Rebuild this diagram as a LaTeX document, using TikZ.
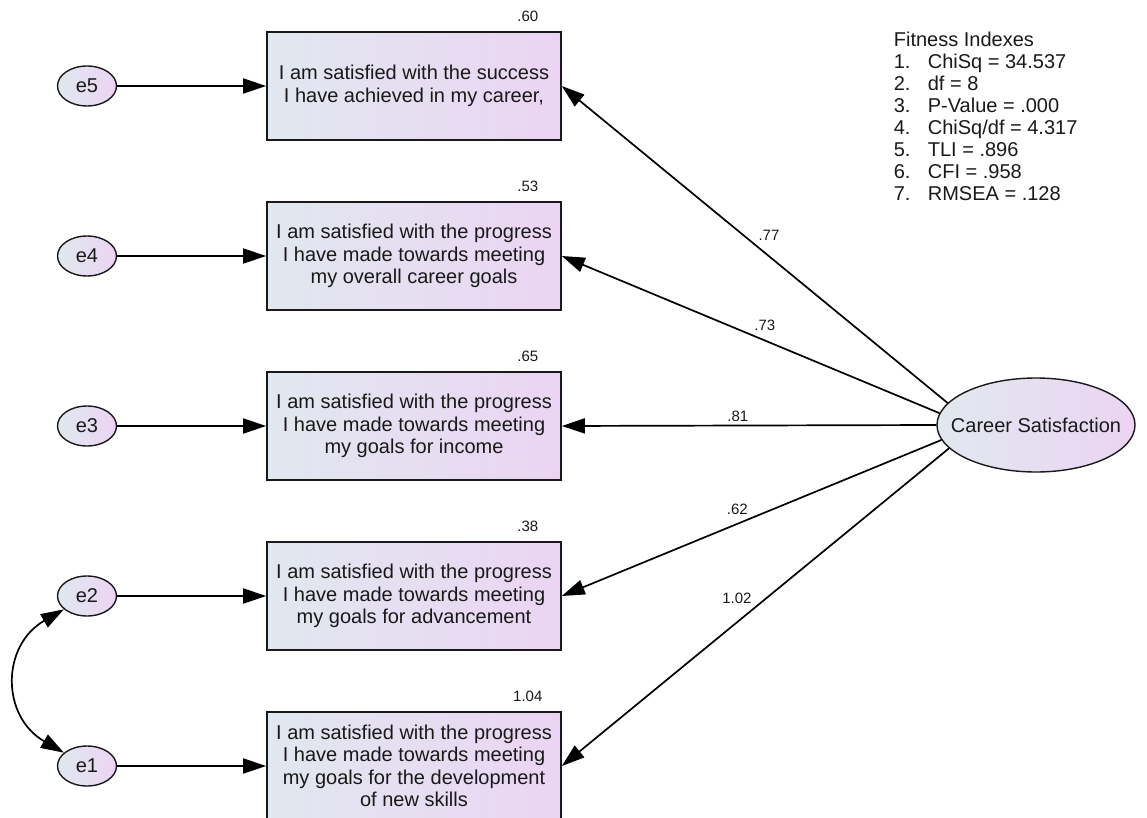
\documentclass[tikz,border=0pt]{standalone}
\usepackage{fontspec}
\setmainfont{Liberation Sans}
\usetikzlibrary{shapes.geometric,arrows.meta}

\definecolor{shadeL}{RGB}{225,232,239}
\definecolor{shadeR}{RGB}{235,212,243}
\definecolor{ink}{RGB}{25,25,25}

\newcommand{\fitrow}[2]{\makebox[34pt][l]{#1}#2}

\tikzset{%
        every item/.style={
            rectangle,
            draw=ink,
            line width=1.6pt,
            left color=shadeL,
            right color=shadeR,
            minimum width=294pt,
            minimum height=108pt,
            align=center,
            text=ink,
            font=\fontsize{20}{22.5}\selectfont
        },
        every error/.style={
            ellipse,
            draw=ink,
            line width=1.4pt,
            left color=shadeL,
            right color=shadeR,
            minimum width=59pt,
            minimum height=40pt,
            inner sep=0pt,
            text=ink,
            font=\fontsize{20}{22.5}\selectfont
        },
        latent/.style={
            every error,
            minimum width=198pt,
            minimum height=94pt
        },
        weight/.style={
            inner sep=3pt,
            text=ink,
            font=\fontsize{15}{17}\selectfont
        },
        fitness/.style={
            align=left,
            inner sep=0pt,
            text=ink,
            font=\fontsize{20}{22}\selectfont
        },
    }

\begin{document}
\begin{tikzpicture}[x=1pt, y=-1pt, >={Triangle[length=23pt,width=15pt]}, line width=1.7pt]
        \useasboundingbox (0,0) rectangle (1147,818);

        \foreach \t/\r [count=\i] in {
            {I am satisfied with the progress\\I have made towards meeting\\my goals for the development\\of new skills}/1.04,
            {I am satisfied with the progress\\I have made towards meeting\\my goals for advancement}/.38,
            {I am satisfied with the progress\\I have made towards meeting\\my goals for income}/.65,
            {I am satisfied with the progress\\I have made towards meeting\\my overall career goals}/.53,
            {I am satisfied with the success\\I have achieved in my career,}/.60}
        {
            \node [every item] (item-\i) at (414,{766-170*(\i-1)}) {\t};
            \node [every error] (e\i) at (87,{766-170*(\i-1)}) {e\i};
            \node [weight, inner sep=0pt, anchor=south] (r2-\i)
                at ([xshift=-34pt,yshift=9pt]item-\i.north east) {\r};
            \draw [->] (e\i) -- (item-\i);
        }

        \node [latent] (cs) at (1036,425) {\makebox[0pt]{Career Satisfaction}};

        \foreach \a/\w/\p/\s [count=\i] in {195/1.02/0.5/south east, 189/.62/0.5/south east,
            180/.81/0.53/south, 173/.73/0.5/south west, 166/.77/0.5/south west}
            \draw [->] (cs.\a) -- (item-\i.east)
                node [weight, pos=\p, anchor=\s] (w-\i) {\w};

        \draw [<->] (e1) to [bend left=60, looseness=1.3] (e2);

        \node [fitness, anchor=north west] (fit) at (893,31) {Fitness Indexes\\
            \fitrow{1.}{ChiSq = 34.537}\\
            \fitrow{2.}{df = 8}\\
            \fitrow{3.}{P-Value = .000}\\
            \fitrow{4.}{ChiSq/df = 4.317}\\
            \fitrow{5.}{TLI = .896}\\
            \fitrow{6.}{CFI = .958}\\
            \fitrow{7.}{RMSEA = .128}};
    \end{tikzpicture}
\end{document}
